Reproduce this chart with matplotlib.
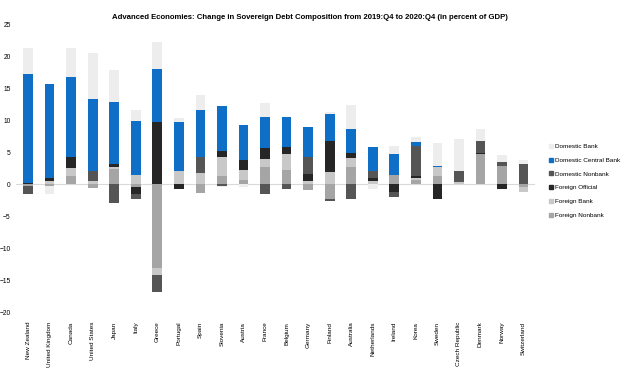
import matplotlib
matplotlib.use('Agg')
import matplotlib.pyplot as plt
from matplotlib.lines import Line2D
import numpy as np

plt.rcParams['font.family'] = ['Liberation Sans', 'DejaVu Sans']

# data (percent of GDP)
countries = ['New Zealand', 'United Kingdom', 'Canada', 'United States', 'Japan', 'Italy',
             'Greece', 'Portugal', 'Spain', 'Slovenia', 'Austria', 'France', 'Belgium',
             'Germany', 'Finland', 'Australia', 'Netherlands', 'Ireland', 'Korea', 'Sweden',
             'Czech Republic', 'Denmark', 'Norway', 'Switzerland']

foreign_nonbank = [-0.3, -0.3, 1.2, -0.6, 2.4, -0.4, -13.1, 0.0, -1.4, 1.2, 0.6, 2.7,
                   2.2, -0.9, -2.4, 2.6, 0.0, 1.4, 0.6, 1.2, 0.0, 4.7, 2.8, -0.5]
foreign_bank = [0.0, 0.5, 1.3, 0.4, 0.3, 1.4, -1.1, 2.1, 1.8, 3.0, 1.6, 1.2,
                2.5, 0.4, 1.9, 1.4, 0.5, 0.0, 0.3, 1.5, 0.3, 0.0, 0.0, -0.7]
foreign_official = [0.2, 0.5, 1.7, 0.0, 0.5, -1.2, 9.7, -0.7, 0.0, 0.9, 1.6, 1.7,
                    1.1, 1.1, 4.8, 0.8, 0.5, -1.3, 0.3, -2.3, 0.0, 0.2, -0.8, 0.0]
domestic_nonbank = [-1.3, 0.0, 0.0, 1.7, -3.0, -0.8, -2.7, -0.1, 2.4, -0.3, 0.0, -1.6,
                    -0.7, 2.7, -0.2, -2.4, 1.0, -0.7, 4.8, 0.0, 1.7, 1.9, 0.7, 3.1]
domestic_central_bank = [17.0, 14.7, 12.6, 11.2, 9.7, 8.5, 8.3, 7.6, 7.4, 7.1, 5.4, 4.9,
                         4.7, 4.7, 4.3, 3.8, 3.8, 3.3, 0.5, 0.15, 0.0, 0.0, 0.0, 0.0]
domestic_bank = [4.1, -1.2, 4.5, 7.2, 4.9, 1.6, 4.2, 0.7, 2.3, -0.2, -0.4, 2.2,
                 0.0, 0.0, 0.3, 3.7, -0.8, 1.2, 0.9, 3.6, 5.1, 1.8, 1.1, 0.7]

# stacking order from the bottom, as in the original
series = [
    ('Foreign Nonbank', foreign_nonbank, '#a5a5a5'),
    ('Foreign Bank', foreign_bank, '#c8c8c8'),
    ('Foreign Official', foreign_official, '#262626'),
    ('Domestic Nonbank', domestic_nonbank, '#555555'),
    ('Domestic Central Bank', domestic_central_bank, '#0f6fc6'),
    ('Domestic Bank', domestic_bank, '#ededed'),
]

fig = plt.figure(figsize=(6.24, 3.71), dpi=100)
ax = fig.add_axes([0.026, 0.159, 0.832, 0.776])

x = np.arange(len(countries))
pos_base = np.zeros(len(countries))
neg_base = np.zeros(len(countries))
for name, vals, col in series:
    v = np.array(vals, dtype=float)
    bottom = np.where(v >= 0, pos_base, neg_base)
    ax.bar(x, v, 0.45, bottom=bottom, color=col, label=name, zorder=2)
    pos_base = pos_base + np.clip(v, 0, None)
    neg_base = neg_base + np.clip(v, None, 0)

ax.axhline(0, color='#d9d9d9', lw=0.8, zorder=1)
ax.set_xlim(-0.55, len(countries) - 0.45)
ax.set_ylim(-20, 25)
ax.set_yticks(np.arange(-20, 26, 5))
ax.set_xticks(x)
ax.set_xticklabels(countries, rotation=90, fontsize=4.6)
ax.tick_params(axis='y', labelsize=4.8, length=0, pad=4)
ax.tick_params(axis='x', length=0, pad=7)
for s in ax.spines.values():
    s.set_visible(False)

fig.text(0.497, 0.953,
         'Advanced Economies: Change in Sovereign Debt Composition from 2019:Q4 to 2020:Q4 (in percent of GDP)',
         ha='center', va='center', fontsize=5.6, fontweight='bold')

handles = [Line2D([], [], marker='s', ls='', color=col, markersize=2.3)
           for name, vals, col in reversed(series)]
labels = [name for name, vals, col in reversed(series)]
fig.legend(handles, labels, loc='upper left', bbox_to_anchor=(0.877, 0.62),
           frameon=False, fontsize=4.6, handlelength=0.5, handletextpad=0.35,
           labelspacing=1.3, borderaxespad=0)

fig.savefig('out.png', dpi=100)
